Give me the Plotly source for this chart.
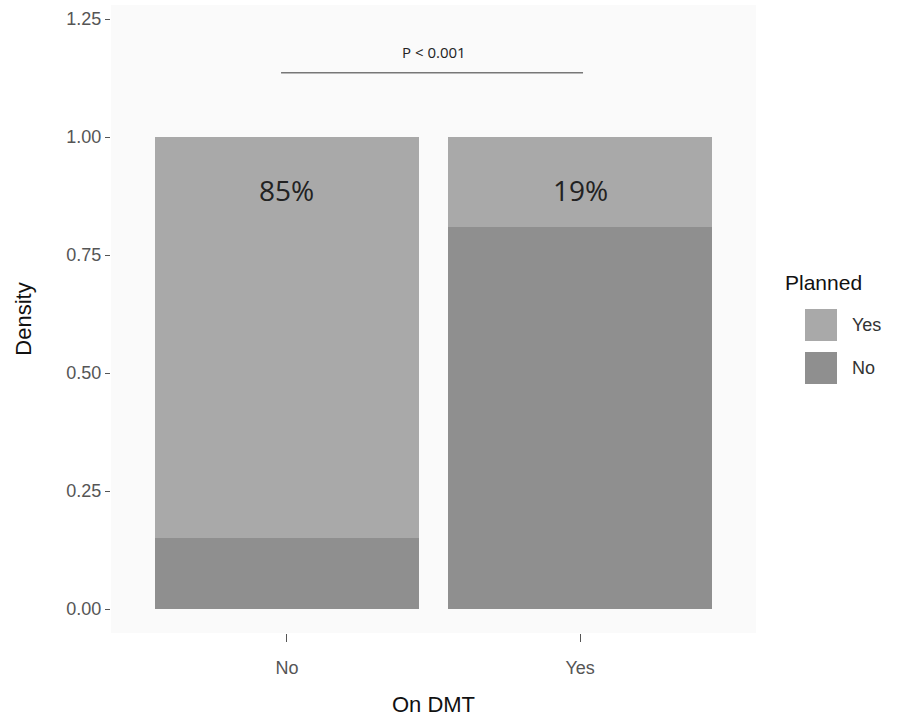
import plotly.graph_objects as go

categories = ["No", "Yes"]
planned_no = [0.15, 0.81]
planned_yes = [0.85, 0.19]
pct_labels = ["85%", "19%"]
p_text = "P < 0.001"
legend_title = "Planned"
legend_labels = ["Yes", "No"]
y_ticks = [0, 0.25, 0.5, 0.75, 1.0, 1.25]
y_ticklabels = ["0.00", "0.25", "0.50", "0.75", "1.00", "1.25"]

col_yes = "#a9a9a9"
col_no = "#8f8f8f"

fig = go.Figure()
fig.add_bar(x=categories, y=planned_no, name="No", marker=dict(color=col_no, line=dict(width=0)),
            width=0.9, showlegend=False)
fig.add_bar(x=categories, y=planned_yes, name="Yes", marker=dict(color=col_yes, line=dict(width=0)),
            width=0.9, showlegend=False)

for c, t in zip(categories, pct_labels):
    fig.add_annotation(x=c, y=0.888, text=t, showarrow=False,
                       font=dict(family="Open Sans", size=28, color="#222222"))

fig.add_shape(type="line", x0=-0.02, x1=1.01, y0=1.136, y1=1.136, xref="x", yref="y",
              line=dict(color="#777777", width=1.5))
fig.add_annotation(x=0.5, y=1.18, text=p_text, showarrow=False, xref="x", yref="y",
                   font=dict(family="Open Sans", size=15, color="#222222"))

# manual legend (large keys like ggplot)
W, H = 905, 719
ml, mr, mt, mb = 111, 149, 5, 86
pw, ph = W - ml - mr, H - mt - mb
def px(x):
    return (x - ml) / pw
def py(y):
    return 1 - (y - mt) / ph

fig.add_annotation(x=px(783), y=py(282), xref="paper", yref="paper", text=legend_title,
                   showarrow=False, xanchor="left", yanchor="middle",
                   font=dict(family="Liberation Sans, Arial", size=21, color="#111111"))
for i, (lab, col) in enumerate(zip(legend_labels, [col_yes, col_no])):
    yc = 325 + i * 43
    fig.add_shape(type="rect", xref="paper", yref="paper",
                  x0=px(805), x1=px(837), y0=py(yc - 16), y1=py(yc + 16),
                  fillcolor=col, line=dict(width=0))
    fig.add_annotation(x=px(850), y=py(yc), xref="paper", yref="paper", text=lab,
                       showarrow=False, xanchor="left", yanchor="middle",
                       font=dict(family="Liberation Sans, Arial", size=18, color="#333333"))

fig.update_layout(
    width=W, height=H,
    margin=dict(l=ml, r=mr, t=mt, b=mb),
    barmode="stack",
    paper_bgcolor="white",
    plot_bgcolor="#fafafa",
    font=dict(family="Liberation Sans, Arial", color="#555555"),
    showlegend=False,
    xaxis=dict(
        title=dict(text="On DMT", font=dict(size=22, color="#111111"), standoff=20),
        range=[-0.6, 1.6],
        showgrid=False, zeroline=False,
        ticks="outside", ticklen=8, tickcolor="#555555",
        ticklabelstandoff=10,
        tickfont=dict(size=18, color="#555555"),
    ),
    yaxis=dict(
        title=dict(text="Density", font=dict(size=22, color="#111111"), standoff=28),
        range=[-0.0508, 1.2797],
        tickvals=y_ticks, ticktext=y_ticklabels,
        showgrid=False, zeroline=False,
        ticks="outside", ticklen=5, tickcolor="#555555",
        tickfont=dict(size=18, color="#555555"),
    ),
)

fig.write_html("out.html")
